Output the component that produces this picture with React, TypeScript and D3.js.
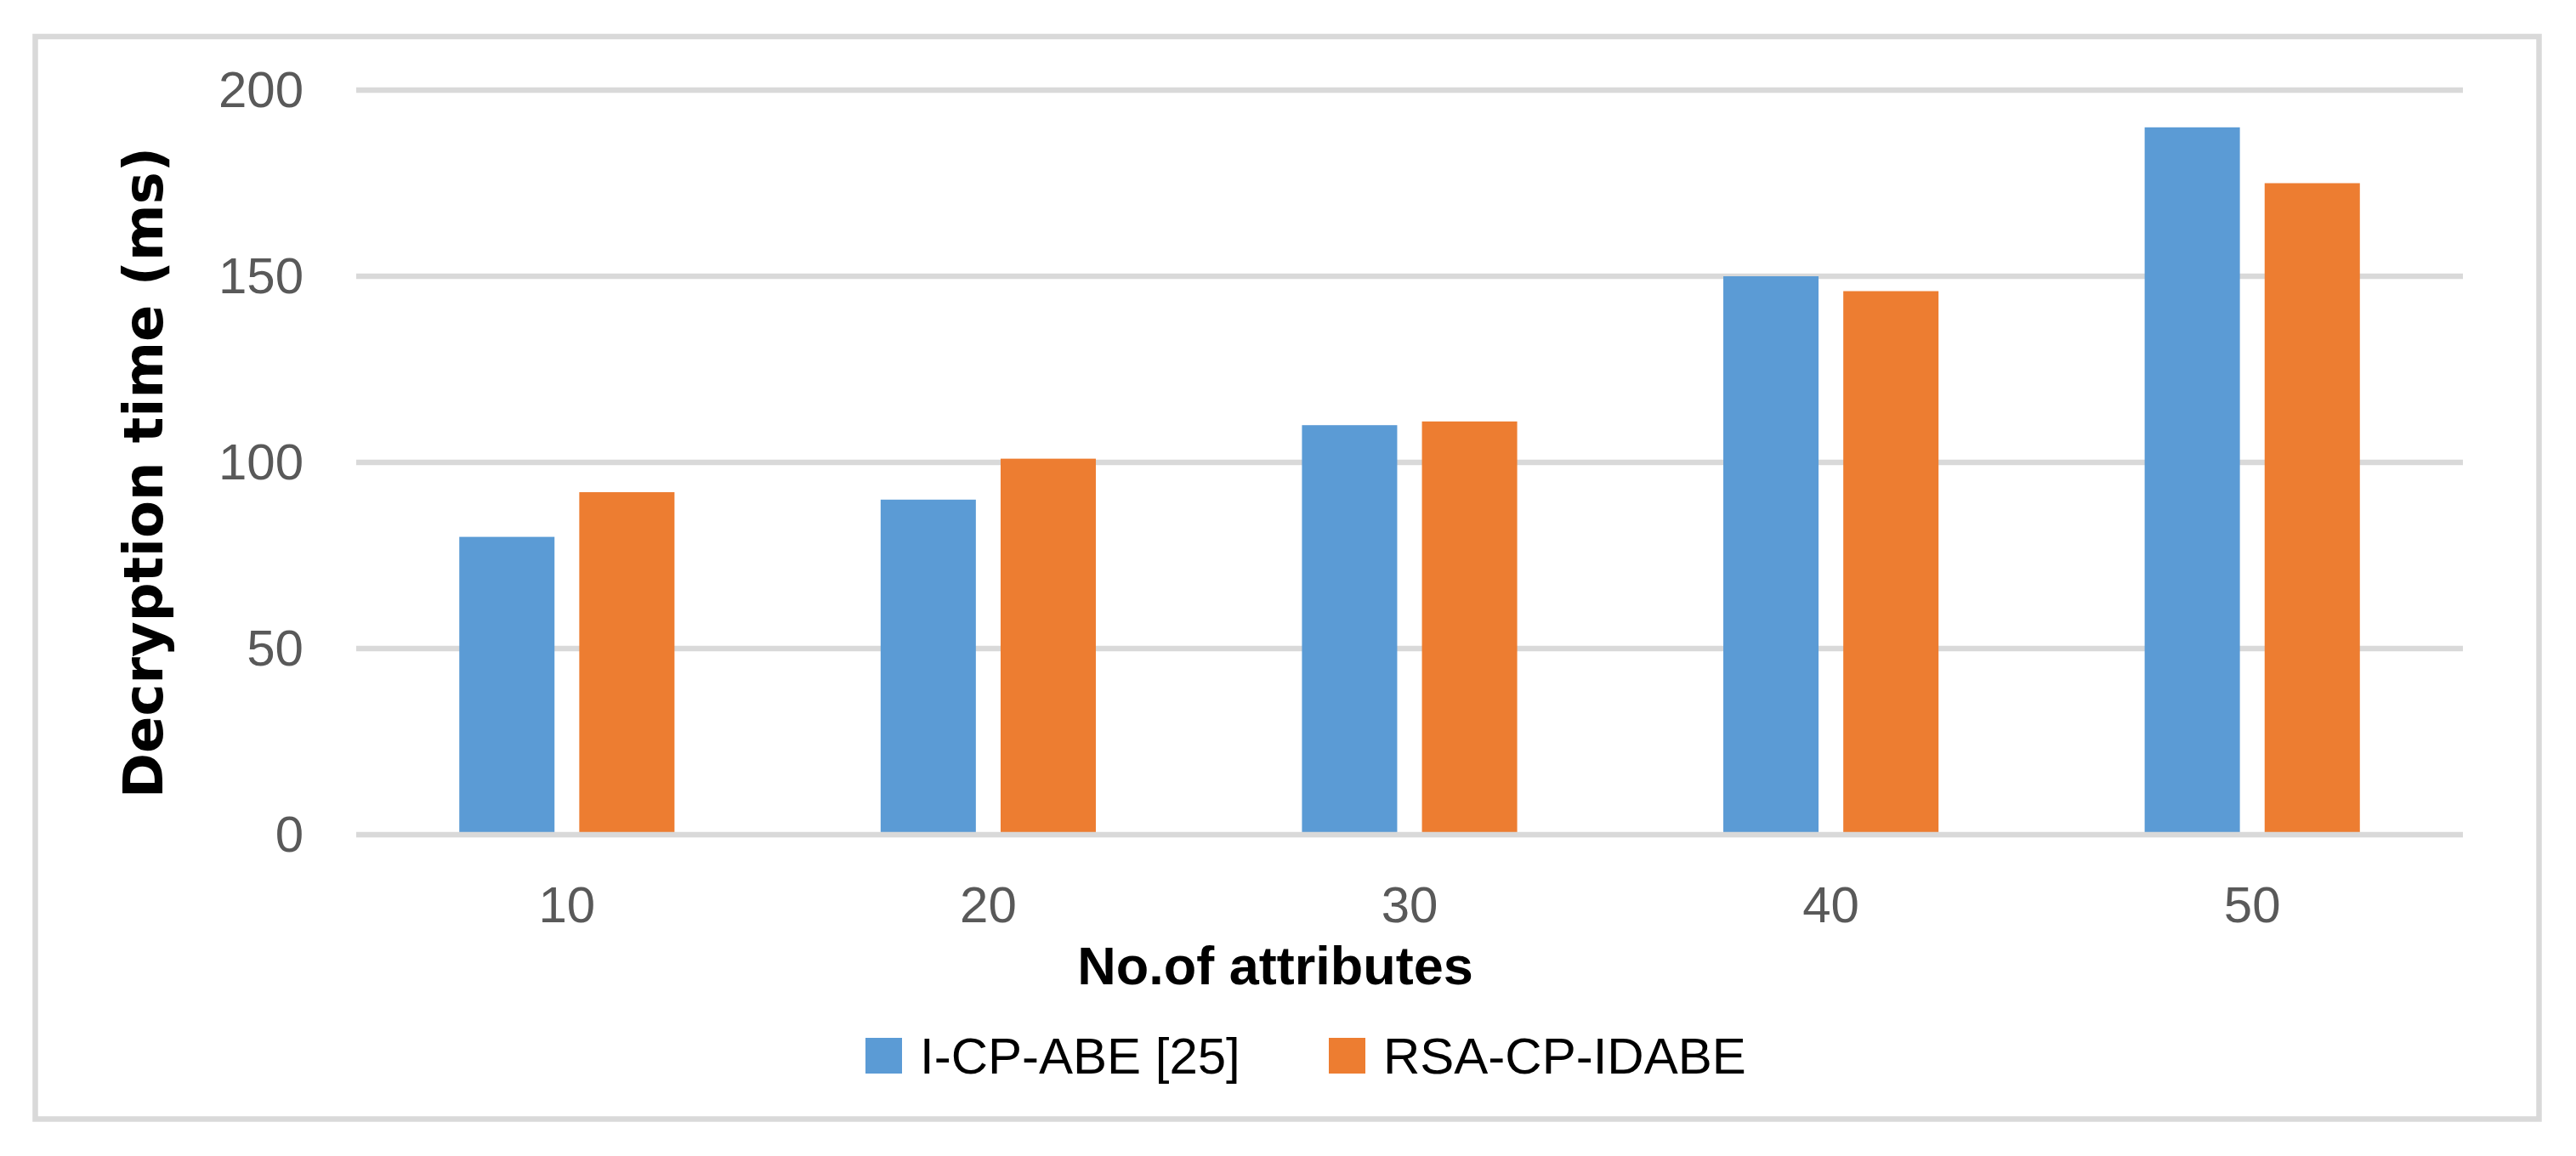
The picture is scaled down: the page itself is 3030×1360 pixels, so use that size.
import { useEffect, useRef } from "react";
import * as d3 from "d3";

const categories = ["10", "20", "30", "40", "50"];
const seriesNames = ["I-CP-ABE [25]", "RSA-CP-IDABE"];
const icpAbe = [80, 90, 110, 150, 190];
const rsaCpIdabe = [92, 101, 111, 146, 175];
const yTicks = [0, 50, 100, 150, 200];
const colors = ["#5b9bd5", "#ed7d31"];

export default function App() {
  const ref = useRef<SVGSVGElement | null>(null);

  useEffect(() => {
    if (!ref.current) return;

    const width = 3030;
    const height = 1360;
    const plot = { left: 419, right: 2897, top: 106, bottom: 982 };

    const svg = d3.select(ref.current);
    svg.selectAll("*").remove();
    svg.attr("viewBox", `0 0 ${width} ${height}`);

    svg.append("rect").attr("width", width).attr("height", height).attr("fill", "#fff");

    // outer chart frame
    svg
      .append("rect")
      .attr("x", 41.5)
      .attr("y", 43)
      .attr("width", 2945)
      .attr("height", 1273.5)
      .attr("fill", "none")
      .attr("stroke", "#d9d9d9")
      .attr("stroke-width", 6.5);

    const x = d3.scaleBand().domain(categories).range([plot.left, plot.right]).paddingInner(0);
    const y = d3.scaleLinear().domain([0, 200]).range([plot.bottom, plot.top]);

    const barW = x.bandwidth() * 0.226;
    const gap = barW * 0.26;
    const sub = d3
      .scaleOrdinal<number, number>()
      .domain([0, 1])
      .range([x.bandwidth() / 2 - gap / 2 - barW, x.bandwidth() / 2 + gap / 2]);

    // gridlines (baseline drawn later, over the bars)
    svg
      .append("g")
      .selectAll("line")
      .data(yTicks.filter((t) => t !== 0))
      .join("line")
      .attr("x1", plot.left)
      .attr("x2", plot.right)
      .attr("y1", (d) => y(d))
      .attr("y2", (d) => y(d))
      .attr("stroke", "#d9d9d9")
      .attr("stroke-width", 6.5);

    const series = [icpAbe, rsaCpIdabe];
    series.forEach((vals, si) => {
      svg
        .append("g")
        .selectAll("rect")
        .data(vals)
        .join("rect")
        .attr("x", (_, i) => (x(categories[i]) ?? 0) + sub(si))
        .attr("width", barW)
        .attr("y", (d) => y(d))
        .attr("height", (d) => y(0) - y(d))
        .attr("fill", colors[si]);
    });

    svg
      .append("line")
      .attr("x1", plot.left)
      .attr("x2", plot.right)
      .attr("y1", y(0))
      .attr("y2", y(0))
      .attr("stroke", "#d9d9d9")
      .attr("stroke-width", 6.5);

    // y tick labels
    svg
      .append("g")
      .selectAll("text")
      .data(yTicks)
      .join("text")
      .attr("x", 357)
      .attr("y", (d) => y(d) + 20)
      .attr("text-anchor", "end")
      .attr("font-family", "Liberation Sans, Arial, sans-serif")
      .attr("font-size", 60)
      .attr("fill", "#595959")
      .text((d) => d);

    // x tick labels
    svg
      .append("g")
      .selectAll("text")
      .data(categories)
      .join("text")
      .attr("x", (d) => (x(d) ?? 0) + x.bandwidth() / 2)
      .attr("y", 1085)
      .attr("text-anchor", "middle")
      .attr("font-family", "Liberation Sans, Arial, sans-serif")
      .attr("font-size", 60)
      .attr("fill", "#595959")
      .text((d) => d);

    svg
      .append("text")
      .attr("transform", "translate(191,556) rotate(-90)")
      .attr("text-anchor", "middle")
      .attr("font-family", "DejaVu Sans, Verdana, sans-serif")
      .attr("font-weight", "bold")
      .attr("font-size", 64)
      .attr("fill", "#000")
      .text("Decryption time (ms)");

    svg
      .append("text")
      .attr("x", 1500)
      .attr("y", 1158)
      .attr("text-anchor", "middle")
      .attr("font-family", "Liberation Sans, Arial, sans-serif")
      .attr("font-weight", "bold")
      .attr("font-size", 63)
      .attr("fill", "#000")
      .text("No.of attributes");

    // legend
    const legendX = [1018, 1563];
    const legend = svg
      .append("g")
      .selectAll("g")
      .data(seriesNames)
      .join("g")
      .attr("transform", (_, i) => `translate(${legendX[i]},1221)`);
    legend
      .append("rect")
      .attr("width", 43)
      .attr("height", 42)
      .attr("fill", (_, i) => colors[i]);
    legend
      .append("text")
      .attr("x", 64)
      .attr("y", 42)
      .attr("font-family", "Liberation Sans, Arial, sans-serif")
      .attr("font-size", 60)
      .attr("fill", "#000")
      .text((d) => d);
  }, []);

  return (
    <svg
      ref={ref}
      width={3030}
      height={1360}
      role="img"
      aria-label="Decryption time bar chart"
      style={{ position: "absolute", left: 0, top: 0, display: "block" }}
    />
  );
}
